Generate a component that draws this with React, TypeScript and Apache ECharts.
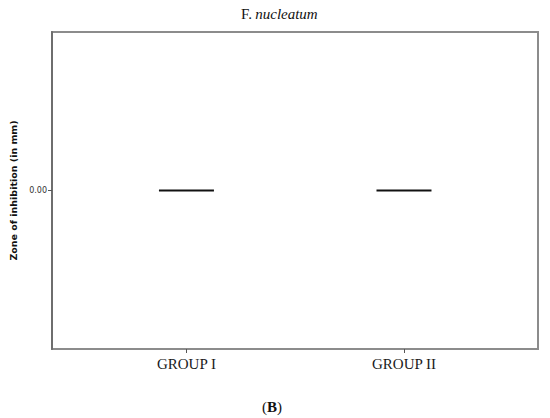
import React, { useEffect, useRef } from "react";
import * as echarts from "echarts";

const groups: string[] = ["GROUP I", "GROUP II"];
const groupPositions: number[] = [1, 2];
// [min, Q1, median, Q3, max] of zone of inhibition (mm)
const boxValues: number[][] = [
  [0, 0, 0, 0, 0],
  [0, 0, 0, 0, 0],
];
const yTickValues: number[] = [0];

export default function App() {
  const ref = useRef<HTMLDivElement>(null);
  useEffect(() => {
    if (!ref.current) return;
    const chart = echarts.init(ref.current, null, { renderer: "svg" });
    const data = groupPositions.map((p, i) => [p, ...boxValues[i]]);
    chart.setOption({
      animation: false,
      backgroundColor: "#ffffff",
      grid: {
        left: 51,
        right: 12,
        top: 32,
        bottom: 69,
        show: true,
        borderColor: "#8c8c8c",
        borderWidth: 2,
        backgroundColor: "transparent",
      },
      xAxis: {
        type: "value",
        min: 0.382,
        max: 2.616,
        splitLine: { show: false },
        axisLine: { show: false, onZero: false },
        axisTick: {
          show: true,
          customValues: groupPositions,
          length: 4,
          lineStyle: { color: "#555", width: 1 },
        },
        axisLabel: {
          customValues: groupPositions,
          formatter: (v: number) => {
            const i = groupPositions.indexOf(Math.round(v));
            return i >= 0 ? groups[i] : "";
          },
          fontFamily: "Liberation Serif",
          fontSize: 15,
          color: "#1a1a1a",
          margin: 7,
        },
      },
      yAxis: {
        type: "value",
        min: -1,
        max: 1,
        splitLine: { show: false },
        axisLine: { show: true, onZero: false, lineStyle: { color: "#6e6e6e", width: 2 } },
        axisTick: {
          show: true,
          customValues: yTickValues,
          length: 4,
          lineStyle: { color: "#555", width: 1 },
        },
        axisLabel: {
          customValues: yTickValues,
          formatter: (v: number) => v.toFixed(2),
          fontFamily: "DejaVu Sans",
          fontSize: 8,
          color: "#333",
          margin: 5,
        },
        name: "Zone of inhibition (in mm)",
        nameLocation: "middle",
        nameGap: 34,
        nameTextStyle: {
          fontFamily: "DejaVu Sans",
          fontWeight: "bold",
          fontSize: 9.5,
          color: "#111",
        },
      },
      series: [
        {
          type: "boxplot",
          data,
          boxWidth: [55, 55],
          itemStyle: {
            color: "#fff",
            borderColor: "#111",
            borderWidth: 2,
            borderJoin: "bevel",
            borderCap: "butt",
          },
        },
      ],
      graphic: [
        {
          type: "text",
          left: 241,
          top: 6,
          style: {
            text: "{a|F.} {b|nucleatum}",
            rich: {
              a: { fontFamily: "Liberation Serif", fontSize: 15, fill: "#111" },
              b: {
                fontFamily: "Liberation Serif",
                fontSize: 15,
                fontStyle: "italic",
                fill: "#111",
              },
            },
          },
        },
        {
          type: "text",
          left: 262,
          top: 399,
          style: {
            text: "{a|(}{b|B}{a|)}",
            rich: {
              a: { fontFamily: "Liberation Serif", fontSize: 15, fill: "#111" },
              b: {
                fontFamily: "Liberation Serif",
                fontSize: 15,
                fontWeight: "bold",
                fill: "#111",
              },
            },
          },
        },
      ],
    });
    return () => chart.dispose();
  }, []);
  return (
    <div
      ref={ref}
      style={{ position: "absolute", left: 0, top: 0, width: 550, height: 418 }}
    />
  );
}
